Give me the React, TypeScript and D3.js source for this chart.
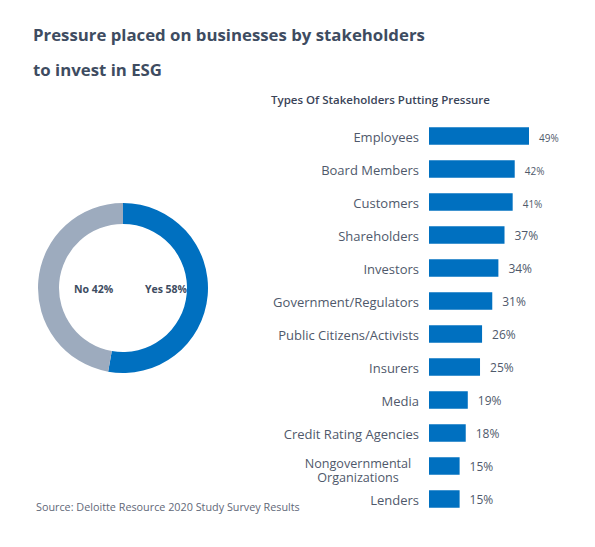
import React from "react";
import * as d3 from "d3";

const categories = [
  "Employees",
  "Board Members",
  "Customers",
  "Shareholders",
  "Investors",
  "Government/Regulators",
  "Public Citizens/Activists",
  "Insurers",
  "Media",
  "Credit Rating Agencies",
  "Nongovernmental Organizations",
  "Lenders",
];
const values = [49, 42, 41, 37, 34, 31, 26, 25, 19, 18, 15, 15];
const donutLabels = ["Yes", "No"];
const donutValues = [58, 42];
// arc sizes as drawn in the reference ring (the ring's split is not exactly 58/42)
const donutArcShares = [52.8, 47.2];

const W = 595;
const H = 547;
const FONT = "'Open Sans', sans-serif";
const TITLE_COLOR = "#3e4c61";
const TEXT_COLOR = "#4f596b";
const BLUE = "#0070c0";
const GRAY = "#9dabbe";

export default function App() {
  const x = d3.scaleLinear().domain([0, 49]).range([429, 529]);
  const y = d3
    .scaleBand<string>()
    .domain(categories)
    .range([119.5, 119.5 + 33 * categories.length])
    .paddingInner(0.47)
    .paddingOuter(0.235);

  const pie = d3
    .pie<number>()
    .sort(null)
    .value((d) => d);
  const arcs = pie(donutArcShares);
  const arc = d3.arc<d3.PieArcDatum<number>>().innerRadius(64).outerRadius(85);
  const cx = 123;
  const cy = 288;

  return (
    <svg
      width={W}
      height={H}
      style={{ position: "absolute", left: 0, top: 0, background: "#fff" }}
      fontFamily={FONT}
    >
      <rect width={W} height={H} fill="#fff" />
      <text x={33} y={41} fontSize={16.8} fontWeight={700} fill={TITLE_COLOR}>
        Pressure placed on businesses by stakeholders
      </text>
      <text x={33} y={76} fontSize={16.8} fontWeight={700} fill={TITLE_COLOR}>
        to invest in ESG
      </text>
      <text
        x={380.5}
        y={103.5}
        fontSize={11.5}
        fontWeight={600}
        fill="#3a4458"
        textAnchor="middle"
      >
        Types Of Stakeholders Putting Pressure
      </text>

      <g transform={`translate(${cx},${cy})`}>
        {arcs.map((a, i) => (
          <path key={i} d={arc(a) || ""} fill={i === 0 ? BLUE : GRAY} />
        ))}
      </g>
      <text
        x={93.5}
        y={292.5}
        fontSize={10.5}
        fontWeight={700}
        fill={TITLE_COLOR}
        textAnchor="middle"
      >
        {`${donutLabels[1]} ${donutValues[1]}%`}
      </text>
      <text
        x={166}
        y={292.5}
        fontSize={10.5}
        fontWeight={700}
        fill={TITLE_COLOR}
        textAnchor="middle"
      >
        {`${donutLabels[0]} ${donutValues[0]}%`}
      </text>

      {categories.map((c, i) => {
        const by = y(c)!;
        const bh = y.bandwidth();
        const mid = by + bh / 2;
        const small = i < 3;
        const words =
          c === "Nongovernmental Organizations"
            ? ["Nongovernmental", "Organizations"]
            : null;
        return (
          <g key={c}>
            <rect
              x={x(0)}
              y={by}
              width={x(values[i]) - x(0)}
              height={bh}
              fill={BLUE}
            />
            {words ? (
              <text fontSize={12.6} fill={TEXT_COLOR} textAnchor="middle">
                <tspan x={358} y={mid + 1.5}>
                  {words[0]}
                </tspan>
                <tspan x={358} y={mid + 15.5}>
                  {words[1]}
                </tspan>
              </text>
            ) : (
              <text
                x={419}
                y={mid + 6}
                fontSize={13}
                fill={TEXT_COLOR}
                textAnchor="end"
              >
                {c}
              </text>
            )}
            <text
              x={x(values[i]) + 10}
              y={small ? mid + 6 : mid + 5}
              fontSize={small ? 10 : 12}
              fill={TEXT_COLOR}
            >
              {`${values[i]}%`}
            </text>
          </g>
        );
      })}

      <text x={36} y={511} fontSize={10.8} fill="#5f6878">
        Source: Deloitte Resource 2020 Study Survey Results
      </text>
    </svg>
  );
}
